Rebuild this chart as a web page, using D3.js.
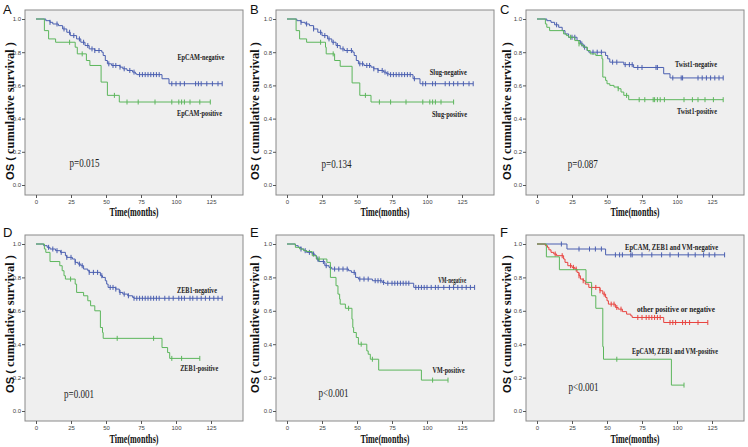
<!DOCTYPE html>
<html><head><meta charset="utf-8">
<script src="https://cdn.jsdelivr.net/npm/d3@7"></script>
<style>body{margin:0;background:#fff}svg{display:block}</style>
</head><body><svg id="c" width="748" height="447"></svg>
<script>
// ---------- DATA (time in months, cumulative survival) ----------
const xTicks = [0, 25, 50, 75, 100, 125];
const yTicks = [0, 0.2, 0.4, 0.6, 0.8, 1.0];
const panelLetters = ["A", "B", "C", "D", "E", "F"];
const pValues = ["p=0.015", "p=0.134", "p=0.087", "p=0.001", "p<0.001", "p<0.001"];
const seriesNames = [
  ["EpCAM-negative", "EpCAM-positive"],
  ["Slug-negative", "Slug-positive"],
  ["Twist1-negative", "Twist1-positive"],
  ["ZEB1-negative", "ZEB1-positive"],
  ["VM-negative", "VM-positive"],
  ["EpCAM, ZEB1 and VM-negative", "other positive or negative", "EpCAM, ZEB1 and VM-positive"]
];

// Panel A
const A_neg = [[0,1],[7,0.99],[10,0.98],[12,0.97],[16,0.96],[19,0.94],[22,0.92],[24.5,0.90],[29,0.88],[32,0.86],[35,0.84],[38,0.82],[42,0.81],[47,0.80],[48,0.78],[49.5,0.75],[51,0.73],[54,0.72],[60,0.71],[62,0.70],[65,0.69],[69,0.68],[71,0.67],[72,0.665],[90,0.64],[95,0.61],[133,0.61]];
const A_negC = [10,15,20,24,27,31,34,37,40,42,45,52,55,57,60,63,67,70,74,76,78,80,82,84,86,88,97,100,103,106,114,116,118,122,126,130,133];
const A_pos = [[0,1],[6,0.93],[9,0.88],[14,0.86],[28,0.83],[29.5,0.79],[36,0.75],[38.5,0.72],[46.5,0.62],[51,0.54],[59.5,0.50],[124.5,0.50]];
const A_posC = [24,33,56,65,73,85,97,102,104,106,110,117,124.5];
// Panel B
const B_neg = [[0,1],[7,0.99],[10,0.98],[13,0.97],[16,0.96],[19,0.94],[22,0.92],[25,0.90],[29,0.88],[32,0.86],[35,0.84],[38,0.82],[41,0.81],[47,0.80],[48,0.78],[49.5,0.75],[51,0.73],[55,0.72],[60,0.71],[62,0.70],[65,0.69],[69,0.68],[71,0.67],[73,0.665],[90,0.64],[95,0.61],[133,0.61]];
const B_negC = [10,14,19,24,27,30,33,36,40,43,46,52,54,57,59,62,65,68,70,72,74,76,78,80,82,84,86,88,91,97,99,104,106,113,116,119,122,126,130,133];
const B_pos = [[0,1],[6.5,0.93],[9,0.88],[14,0.86],[27.5,0.83],[28,0.79],[34,0.75],[38,0.715],[46.5,0.615],[52,0.54],[60,0.50],[119,0.50]];
const B_posC = [24,33,56,66,74,85,97,102,104,106,110,119];
// Panel C
const C_neg = [[0,1],[7,0.99],[10,0.98],[12.6,0.965],[15.5,0.95],[18,0.93],[20,0.91],[22.6,0.89],[28.6,0.87],[31,0.85],[33,0.83],[35.7,0.81],[37,0.80],[49,0.78],[50.5,0.76],[52,0.74],[62,0.725],[69,0.708],[90.5,0.67],[95,0.645],[133,0.645]];
const C_negC = [14,25,27,32,34,40,43,46,54,57,63,66,68,72,75,85,86,97,103,104,115,118,121,124,127,130,133];
const C_pos = [[0,1],[6,0.97],[7,0.95],[9,0.93],[19,0.91],[21,0.90],[22.5,0.89],[27,0.87],[30,0.85],[32,0.84],[33.5,0.83],[36,0.81],[38,0.79],[42,0.78],[46.4,0.76],[47,0.65],[49,0.63],[50,0.61],[52,0.60],[55,0.59],[58,0.58],[60,0.56],[62,0.54],[65.5,0.514],[133,0.514]];
const C_posC = [24,30,58,64,73,77,83,84,86,88,91,105,111,115,120,126,133];
// Panel D
const D_neg = [[0,1],[5.5,0.99],[8,0.98],[10,0.97],[14,0.96],[17.5,0.95],[21,0.93],[22,0.92],[26,0.91],[28,0.89],[30,0.88],[32,0.87],[34,0.85],[37,0.84],[38,0.83],[46,0.81],[47.5,0.80],[49.5,0.78],[50.5,0.76],[51.5,0.74],[57,0.73],[59.5,0.71],[62,0.70],[65.5,0.69],[69,0.68],[70,0.675],[133,0.675]];
const D_negC = [9,12,15,18,22,25,28,31,33,38,41,44,47,53,55,57,60,63,66,70,72,74,76,78,80,82,84,86,88,92,95,98,102,104,106,110,112,115,118,121,124,127,130,133];
const D_pos = [[0,1],[6,0.97],[7,0.95],[10,0.895],[17,0.87],[18.7,0.84],[20,0.81],[21,0.79],[28,0.76],[29,0.71],[34,0.69],[37,0.66],[39,0.63],[42,0.60],[46,0.50],[47.5,0.47],[48,0.435],[90,0.38],[94,0.35],[95.5,0.315],[117,0.315]];
const D_posC = [24.7,58,84,97,104,117];
// Panel E
const E_neg = [[0,1],[6,0.99],[8,0.98],[10,0.97],[12,0.96],[14,0.95],[18,0.94],[20,0.93],[21,0.91],[22.6,0.895],[27,0.87],[30,0.86],[32,0.85],[44,0.84],[46,0.83],[49,0.80],[51,0.79],[61,0.78],[68,0.77],[70,0.765],[90.5,0.74],[134,0.74]];
const E_negC = [10,13,16,19,22,26,28,31,34,37,40,43,48,52,55,58,63,65,67,69,72,75,77,79,81,83,85,87,92,94,96,98,100,103,106,108,112,116,119,122,125,128,131,134];
const E_pos = [[0,1],[6,0.98],[9,0.97],[12,0.96],[14,0.955],[18,0.93],[21,0.91],[28.5,0.89],[31,0.80],[35,0.75],[36.4,0.70],[37.6,0.67],[38,0.64],[41.7,0.615],[46.4,0.55],[47,0.50],[47.6,0.47],[49.5,0.44],[51,0.40],[57,0.36],[58,0.34],[59.5,0.31],[65.5,0.245],[96,0.185],[115,0.185]];
const E_posC = [23,44,53,61,104,115];
// Panel F
const F_neg = [[0,1],[21.4,0.97],[49,0.935],[134,0.935]];
const F_negC = [17.4,30,37.5,41.7,46,56,59,61,67,68,75,82,89,95,101,108,113,119,123,127,134];
const F_mid = [[0,1],[6,0.99],[7.5,0.98],[8.5,0.965],[10,0.95],[12,0.94],[14,0.93],[19,0.91],[20,0.89],[22,0.87],[25,0.86],[27,0.85],[28.6,0.83],[30,0.81],[31,0.79],[33,0.78],[34.5,0.76],[37,0.74],[45,0.72],[47,0.70],[49,0.68],[50,0.66],[51,0.64],[56,0.62],[58,0.61],[61,0.595],[64,0.58],[67,0.57],[68,0.56],[90.5,0.53],[122,0.53]];
const F_midC = [13,18,24,26,28,30,33,39,42,45,48,53,55,57,60,72,75,78,80,82,84,86,88,95,97,99,104,106,109,115,122];
const F_pos = [[0,1],[6.7,0.923],[16,0.846],[35,0.77],[39,0.69],[42,0.615],[47,0.385],[47.5,0.31],[96,0.155],[105,0.155]];
const F_posC = [57,105];

// ---------- LAYOUT ----------
const BLUE = "#4a5fb0", GREEN = "#5cb65c", RED = "#e8433f";
const colLeft = [25, 276, 526], boxW = 218;
const rowY1 = [19, 244], rowY0 = [185, 411];
const letterX = [3, 250, 500], letterY = [14, 237];
const yLabX = [14, 259, 511], yLabBottom = [180, 393];
const titleY = [216, 443];

const panels = [
  {series:[[A_neg,A_negC,BLUE],[A_pos,A_posC,GREEN]],
   labels:[[101,0.753,47],[100.7,0.416,45]], p:[24,0.108,30]},
  {series:[[B_neg,B_negC,BLUE],[B_pos,B_posC,GREEN]],
   labels:[[102,0.663,37],[103.6,0.41,35]], p:[24.7,0.102,30]},
  {series:[[C_neg,C_negC,BLUE],[C_pos,C_posC,GREEN]],
   labels:[[98.6,0.711,42],[100,0.428,40]], p:[22,0.102,30]},
  {series:[[D_neg,D_negC,BLUE],[D_pos,D_posC,GREEN]],
   labels:[[100.7,0.707,40],[103,0.24,38]], p:[20,0.078,30]},
  {series:[[E_neg,E_negC,BLUE],[E_pos,E_posC,GREEN]],
   labels:[[108,0.768,28],[104,0.228,32]], p:[22.5,0.084,30]},
  {series:[[F_neg,F_negC,BLUE],[F_mid,F_midC,RED],[F_pos,F_posC,GREEN]],
   labels:[[62.9,0.964,93],[71.4,0.593,78],[67.9,0.341,86]], p:[22.5,0.12,30]}
];

const svg = d3.select("#c");
const SERIF = "'Liberation Serif','Times New Roman',serif";
const SANS = "'Liberation Sans',Arial,sans-serif";

panels.forEach((P, i) => {
  const col = i % 3, row = Math.floor(i / 3);
  const left = colLeft[col];
  const x = d3.scaleLinear().domain([0, 125]).range([left + 11, left + 186]);
  const y = d3.scaleLinear().domain([0, 1]).range([rowY0[row], rowY1[row]]);
  const top = rowY1[row] - 9, bottom = rowY0[row] + 10;
  const g = svg.append("g");

  g.append("rect").attr("x", left).attr("y", top).attr("width", boxW).attr("height", bottom - top)
    .attr("fill", "#efefef").attr("stroke", "#8a8a8a").attr("stroke-width", 1);

  // axes
  const ya = g.append("g").attr("transform", `translate(${left},0)`)
    .call(d3.axisLeft(y).tickValues(yTicks).tickSize(3).tickPadding(1).tickFormat(d3.format(".1f")));
  const xa = g.append("g").attr("transform", `translate(0,${bottom})`)
    .call(d3.axisBottom(x).tickValues(xTicks).tickSize(3).tickPadding(2).tickFormat(d3.format("d")));
  [ya, xa].forEach(a => {
    a.select(".domain").remove();
    a.selectAll("line").attr("stroke", "#555");
    a.selectAll("text").attr("font-family", SANS).attr("font-size", 6).attr("fill", "#444");
  });

  // curves
  const line = d3.line().x(d => x(d[0])).y(d => y(d[1])).curve(d3.curveStepAfter);
  P.series.forEach(([pts, cens, color]) => {
    g.append("path").attr("d", line(pts)).attr("fill", "none").attr("stroke", color).attr("stroke-width", 1);
    const sAt = t => { let s = 1; pts.forEach(p => { if (p[0] <= t) s = p[1]; }); return s; };
    g.selectAll(null).data(cens).enter().append("line")
      .attr("x1", t => x(t)).attr("x2", t => x(t))
      .attr("y1", t => y(sAt(t)) - 2.5).attr("y2", t => y(sAt(t)) + 2.5)
      .attr("stroke", color).attr("stroke-width", 1);
  });

  // series labels
  P.labels.forEach((L, k) => {
    g.append("text").attr("x", x(L[0])).attr("y", y(L[1]))
      .attr("font-family", SERIF).attr("font-weight", "bold").attr("font-size", 8)
      .attr("textLength", L[2]).attr("lengthAdjust", "spacingAndGlyphs").attr("fill", "#222")
      .text(seriesNames[i][k]);
  });
  // p-value
  g.append("text").attr("x", x(P.p[0])).attr("y", y(P.p[1]))
    .attr("font-family", SERIF).attr("font-size", 11.5).attr("fill", "#222")
    .attr("textLength", P.p[2]).attr("lengthAdjust", "spacingAndGlyphs").text(pValues[i]);

  // panel letter
  g.append("text").attr("x", letterX[col]).attr("y", letterY[row])
    .attr("font-family", SANS).attr("font-size", 13).attr("fill", "#111").text(panelLetters[i]);

  // x title
  g.append("text").attr("x", left + boxW / 2).attr("y", titleY[row]).attr("text-anchor", "middle")
    .attr("font-family", SERIF).attr("font-weight", "bold").attr("font-size", 12)
    .attr("textLength", 49).attr("lengthAdjust", "spacingAndGlyphs").attr("fill", "#111").text("Time(months)");

  // y title
  const yt = g.append("text").attr("transform", `translate(${yLabX[col]},${yLabBottom[row]}) rotate(-90)`)
    .attr("fill", "#111");
  yt.append("tspan").attr("font-family", SANS).attr("font-weight", "bold").attr("font-size", 11.5)
    .attr("textLength", 26).attr("lengthAdjust", "spacingAndGlyphs").text("OS ( ");
  yt.append("tspan").attr("font-family", SERIF).attr("font-weight", "bold").attr("font-size", 11.5)
    .attr("textLength", 112).attr("lengthAdjust", "spacingAndGlyphs").text("cumulative survival )");
});
</script>
</body></html>
